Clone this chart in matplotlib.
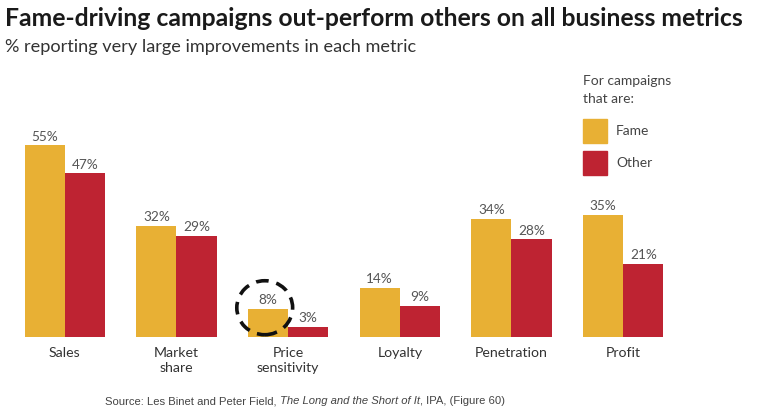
import matplotlib.pyplot as plt
import numpy as np
from matplotlib.patches import Ellipse, Rectangle

metrics = ['Sales', 'Market\nshare', 'Price\nsensitivity', 'Loyalty', 'Penetration', 'Profit']
fame = [55, 32, 8, 14, 34, 35]
other = [47, 29, 3, 9, 28, 21]

gold = '#E8B034'
red = '#BE2332'

plt.rcParams['font.family'] = ['Lato', 'DejaVu Sans']

fig = plt.figure(figsize=(7.7, 4.2), dpi=100)
ax = fig.add_axes([9 / 770, 83 / 420, 670 / 770, 209 / 420])

x = np.arange(len(metrics))
w = 0.36
b1 = ax.bar(x - w / 2, fame, w, color=gold)
b2 = ax.bar(x + w / 2, other, w, color=red)

for bars, vals in ((b1, fame), (b2, other)):
    for r, v in zip(bars, vals):
        ax.annotate(f'{v}%', (r.get_x() + r.get_width() / 2, v), xytext=(0, 2),
                    textcoords='offset points', ha='center', va='bottom',
                    fontsize=9.8, color='#555555')

ax.set_xlim(-0.5, 5.5)
ax.set_ylim(0, 60)
ax.set_xticks(x)
ax.set_xticklabels(metrics, fontsize=10.2, color='#333333', linespacing=1.3)
ax.tick_params(axis='x', length=0, pad=7)
ax.set_yticks([])
for s in ax.spines.values():
    s.set_visible(False)

# dashed circle around price sensitivity fame bar
ax.add_patch(Ellipse((2 - w / 2 - 0.03, fame[2] + 0.4), 0.5, 15.5, fill=False,
                     edgecolor='#111111', lw=2.6, linestyle=(0, (3.5, 2.2)), clip_on=False))

fig.text(5 / 770, 1 - 18 / 420, 'Fame-driving campaigns out-perform others on all business metrics',
         fontsize=17.8, fontweight='bold', color='#1a1a1a', va='center')
fig.text(5 / 770, 1 - 47 / 420, '% reporting very large improvements in each metric',
         fontsize=13.1, color='#333333', va='center')

# legend
fig.text(583 / 770, 1 - 90 / 420, 'For campaigns\nthat are:', fontsize=10, color='#444444',
         va='center', linespacing=1.6)
for i, (lab, c) in enumerate((('Fame', gold), ('Other', red))):
    yc = 131 + i * 32
    fig.patches.append(Rectangle((583 / 770, 1 - (yc + 12) / 420), 24 / 770, 24 / 420,
                                 transform=fig.transFigure, color=c))
    fig.text(616 / 770, 1 - yc / 420, lab, fontsize=10, color='#444444', va='center')

src = dict(fontsize=8.1, color='#444444', family='Liberation Sans')
t1 = fig.text(105 / 770, 1 - 401 / 420, 'Source: Les Binet and Peter Field, ', va='center', **src)
t2 = ax.annotate('The Long and the Short of It', xy=(1, 0), xycoords=t1, va='bottom',
                 style='italic', **src)
ax.annotate(', IPA, (Figure 60)', xy=(1, 0), xycoords=t2, va='bottom', **src)

fig.savefig('out.png', dpi=100)
